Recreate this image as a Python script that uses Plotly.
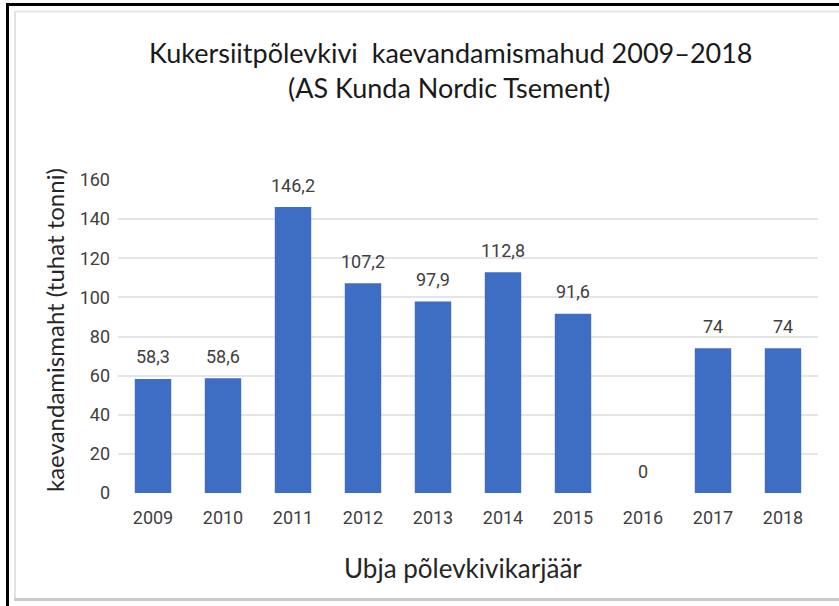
import plotly.graph_objects as go

years = ["2009", "2010", "2011", "2012", "2013", "2014", "2015", "2016", "2017", "2018"]
values = [58.3, 58.6, 146.2, 107.2, 97.9, 112.8, 91.6, 0, 74, 74]
labels = ["58,3", "58,6", "146,2", "107,2", "97,9", "112,8", "91,6", "0", "74", "74"]
y_ticks = [0, 20, 40, 60, 80, 100, 120, 140, 160]
title_lines = ["Kukersiitpõlevkivi  kaevandamismahud 2009–2018", "(AS Kunda Nordic Tsement)"]
x_title = "Ubja põlevkivikarjäär"
y_title = "kaevandamismaht (tuhat tonni)"

W, H = 839, 606
L, R, T, B = 118, 21, 180, 113
pw, ph = W - L - R, H - T - B

def px(x):
    return (x - L) / pw

def py(y):
    return (H - B - y) / ph

fig = go.Figure()
fig.add_trace(go.Bar(
    x=years, y=values,
    marker=dict(color="#3D6EC3", line=dict(width=0)),
    width=0.52,
    hoverinfo="x+y",
))

for i, (v, t) in enumerate(zip(values, labels)):
    fig.add_annotation(x=i, y=v, xref="x", yref="y", text=t, showarrow=False, yshift=22,
                       yanchor="middle", font=dict(family="Roboto", size=18, color="#404040"))

# titles
fig.add_annotation(x=px(451), y=py(53), xref="paper", yref="paper", text=title_lines[0],
                   showarrow=False, xanchor="center", yanchor="middle",
                   font=dict(family="Lato", size=27, color="#1a1a1a"))
fig.add_annotation(x=px(449), y=py(87), xref="paper", yref="paper", text=title_lines[1],
                   showarrow=False, xanchor="center", yanchor="middle",
                   font=dict(family="Lato", size=27, color="#1a1a1a"))
fig.add_annotation(x=px(463), y=py(568), xref="paper", yref="paper", text=x_title,
                   showarrow=False, xanchor="center", yanchor="middle",
                   font=dict(family="Lato", size=26, color="#262626"))
fig.add_annotation(x=px(54), y=py(330), xref="paper", yref="paper", text=y_title,
                   showarrow=False, xanchor="center", yanchor="middle", textangle=-90,
                   font=dict(family="Lato", size=24, color="#262626"))

shapes = [
    # outer black frame
    dict(type="line", xref="paper", yref="paper", x0=px(7.5), x1=px(850), y0=py(4.5), y1=py(4.5),
         line=dict(color="#000000", width=3)),
    dict(type="line", xref="paper", yref="paper", x0=px(7.5), x1=px(7.5), y0=py(3), y1=py(620),
         line=dict(color="#000000", width=3)),
    # inner gray frame
    dict(type="line", xref="paper", yref="paper", x0=px(15), x1=px(850), y0=py(11.5), y1=py(11.5),
         line=dict(color="#E6E7E9", width=2)),
    dict(type="line", xref="paper", yref="paper", x0=px(15), x1=px(15), y0=py(11), y1=py(599),
         line=dict(color="#E1E2E4", width=2)),
    dict(type="line", xref="paper", yref="paper", x0=px(14), x1=px(850), y0=py(599.5), y1=py(599.5),
         line=dict(color="#C9CACC", width=3)),
]

fig.update_layout(
    width=W, height=H,
    margin=dict(l=L, r=R, t=T, b=B, autoexpand=False),
    paper_bgcolor="white", plot_bgcolor="white",
    showlegend=False,
    shapes=shapes,
    xaxis=dict(
        type="category", range=[-0.5, 9.5],
        showgrid=False, showline=False, zeroline=False, ticks="", ticklabelstandoff=12,
        tickfont=dict(family="Roboto", size=18, color="#404040"),
    ),
    yaxis=dict(
        range=[0, 160], tickvals=y_ticks, showgrid=True, gridcolor="#E3E5E8", gridwidth=2,
        zeroline=False, showline=False, ticks="", ticklabelstandoff=7,
        tickfont=dict(family="Roboto", size=18, color="#404040"),
    ),
)

fig.write_html("out.html", config={"displayModeBar": False},
               post_script="document.body.style.margin='0';document.body.style.padding='0';")
